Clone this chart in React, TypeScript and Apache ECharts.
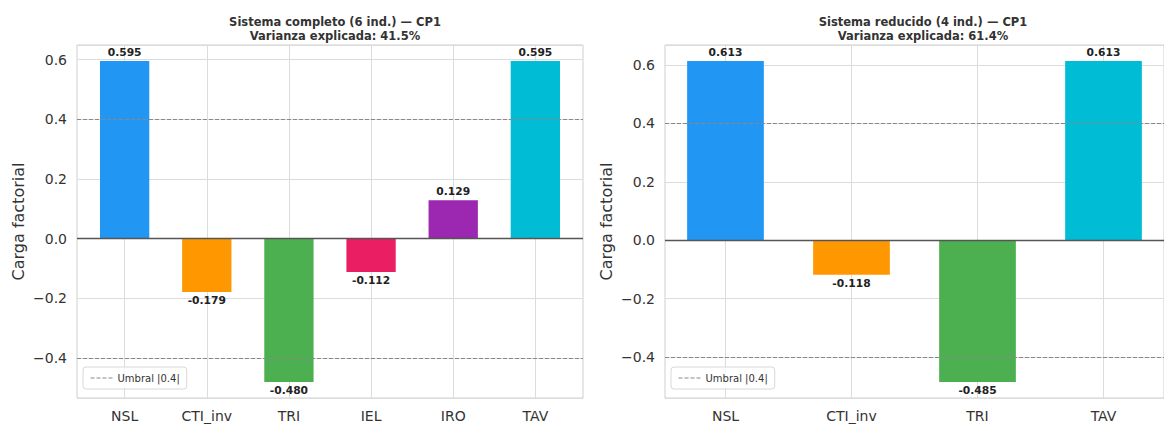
import React, { useEffect, useRef } from "react";
import * as echarts from "echarts";

const leftCategories = ["NSL", "CTI_inv", "TRI", "IEL", "IRO", "TAV"];
const leftValues = [0.595, -0.179, -0.48, -0.112, 0.129, 0.595];
const rightCategories = ["NSL", "CTI_inv", "TRI", "TAV"];
const rightValues = [0.613, -0.118, -0.485, 0.613];
const colorMap: Record<string, string> = {
  NSL: "#2196F3",
  CTI_inv: "#FF9800",
  TRI: "#4CAF50",
  IEL: "#E91E63",
  IRO: "#9C27B0",
  TAV: "#00BCD4",
};
const yTicks = [-0.4, -0.2, 0, 0.2, 0.4, 0.6];
const threshold = 0.4;
const leftTitle = "Sistema completo (6 ind.) — CP1\nVarianza explicada: 41.5%";
const rightTitle = "Sistema reducido (4 ind.) — CP1\nVarianza explicada: 61.4%";
const legendName = "Umbral |0.4|";

const FONT = "'DejaVu Sans', sans-serif";

function panel(idx: number, cats: string[], vals: number[], barW: number) {
  const bars = {
    type: "bar",
    xAxisIndex: idx,
    yAxisIndex: idx,
    barWidth: barW,
    z: 3,
    data: vals.map((v, i) => ({
      value: [i, v],
      itemStyle: { color: colorMap[cats[i]] },
      label: {
        show: true,
        position: v >= 0 ? "top" : "bottom",
        distance: 3,
        formatter: v.toFixed(3),
        fontFamily: FONT,
        fontWeight: "bold",
        fontSize: 10.7,
        color: "#222",
      },
    })),
    markLine: {
      silent: true,
      symbol: ["none", "none"],
      label: { show: false },
      z: 5,
      data: [
        { yAxis: threshold, lineStyle: { type: [4, 2], color: "#888", width: 1 } },
        { yAxis: -threshold, lineStyle: { type: [4, 2], color: "#888", width: 1 } },
        { yAxis: 0, lineStyle: { type: "solid", color: "#555", width: 1.3 } },
      ],
    },
  };
  const vgrid = {
    type: "line",
    name: "vgrid" + idx,
    xAxisIndex: idx,
    yAxisIndex: idx,
    data: [],
    z: 1,
    symbol: "none",
    markLine: {
      silent: true,
      z: 1,
      symbol: ["none", "none"],
      label: { show: false },
      lineStyle: { type: "solid", color: "#dcdcdc", width: 1 },
      data: cats.map((_, i) => ({ xAxis: i })),
    },
  };
  const legendSeries = {
    type: "line",
    name: legendName,
    xAxisIndex: idx,
    yAxisIndex: idx,
    data: [],
    symbol: "none",
    showSymbol: false,
    lineStyle: { type: [4, 2], color: "#888", width: 1 },
    itemStyle: { color: "#888" },
  };
  return [vgrid, bars, legendSeries];
}

function xAxis(idx: number, cats: string[], margin: number) {
  return {
    type: "value",
    gridIndex: idx,
    min: -margin,
    max: cats.length - 1 + margin,
    axisLine: { show: false },
    axisTick: { show: false, customValues: cats.map((_, i) => i) },
    splitLine: { show: false },
    axisLabel: {
      customValues: cats.map((_, i) => i),
      formatter: (v: number) => cats[Math.round(v)] ?? "",
      fontFamily: FONT,
      fontSize: 14,
      color: "#333",
      margin: 11,
    },
  };
}

function yAxis(idx: number, min: number, max: number) {
  return {
    type: "value",
    gridIndex: idx,
    min,
    max,
    name: "Carga factorial",
    nameLocation: "middle",
    nameGap: 51,
    nameRotate: 90,
    nameTextStyle: { fontFamily: FONT, fontSize: 16, color: "#333" },
    axisLine: { show: false },
    axisTick: { show: false },
    splitLine: { show: true, lineStyle: { color: "#dcdcdc", width: 1 } },
    axisLabel: {
      customValues: yTicks,
      formatter: (v: number) => v.toFixed(1).replace("-", "\u2212"),
      fontFamily: FONT,
      fontSize: 14,
      color: "#333",
      margin: 10,
    },
  };
}

function legend(left: number) {
  return {
    data: [legendName],
    left,
    top: 367,
    orient: "vertical",
    borderColor: "#d8d8d8",
    borderWidth: 1,
    borderRadius: 3,
    padding: [6, 7],
    itemWidth: 22,
    itemHeight: 10,
    itemGap: 5,
    itemStyle: { color: "transparent", borderColor: "transparent", borderWidth: 0 },
    lineStyle: { type: [4, 2], color: "#888", width: 1 },
    backgroundColor: "rgba(255,255,255,0.8)",
    textStyle: { fontFamily: FONT, fontSize: 10, color: "#333" },
  };
}

export default function App() {
  const ref = useRef<HTMLDivElement>(null);
  useEffect(() => {
    document.body.style.margin = "0";
    const chart = echarts.init(ref.current!, null, { renderer: "svg" });
    const titleStyle = { fontFamily: FONT, fontWeight: "bold", fontSize: 11.5, lineHeight: 14, color: "#333" };
    const option: any = {
      animation: false,
      backgroundColor: "#ffffff",
      title: [
        { text: leftTitle, left: 330, top: 10, textAlign: "center", textStyle: titleStyle },
        { text: rightTitle, left: 918, top: 10, textAlign: "center", textStyle: titleStyle },
      ],
      legend: [legend(83), legend(671)],
      grid: [
        { left: 77, top: 45, width: 506, height: 353, show: true, borderColor: "#cfcfcf", borderWidth: 1 },
        { left: 665, top: 45, width: 506, height: 353, show: true, borderColor: "#cfcfcf", borderWidth: 1 },
      ],
      xAxis: [xAxis(0, leftCategories, 0.58), xAxis(1, rightCategories, 0.48)],
      yAxis: [yAxis(0, -0.534, 0.649), yAxis(1, -0.54, 0.668)],
      series: [
        ...panel(0, leftCategories, leftValues, 49.3),
        ...panel(1, rightCategories, rightValues, 76.7),
      ],
    };
    chart.setOption(option);
    return () => chart.dispose();
  }, []);
  return <div ref={ref} style={{ width: 1164, height: 427 }} />;
}
